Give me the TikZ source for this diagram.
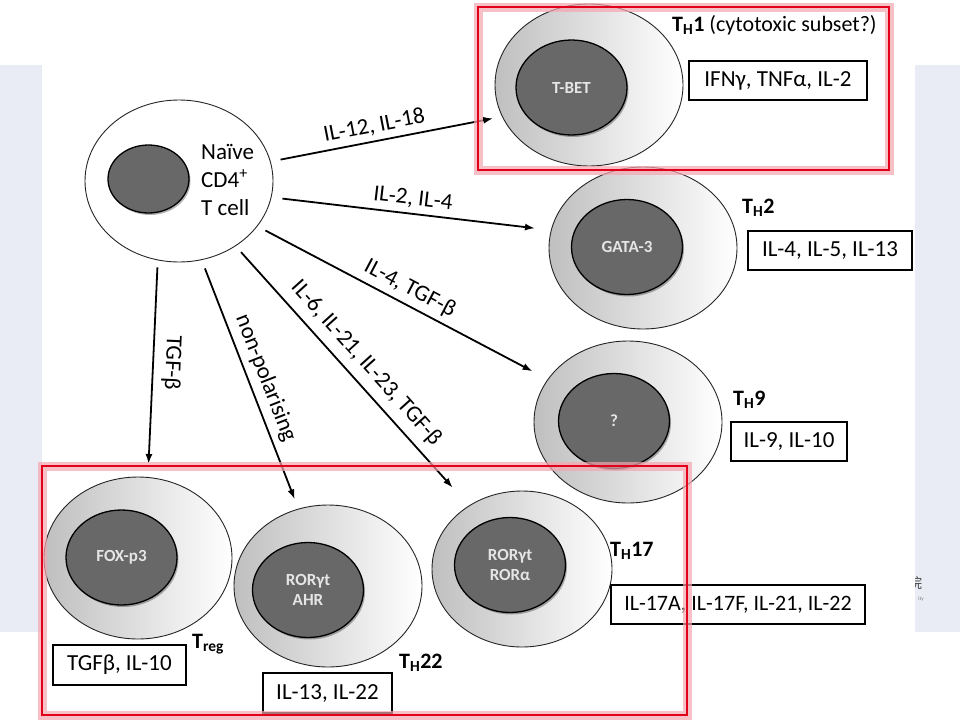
\documentclass[tikz,border=0pt]{standalone}
\usepackage{fontspec}
\setmainfont{Carlito}
\newfontfamily\cjkfont{Noto Sans CJK SC}
\usetikzlibrary{arrows.meta,positioning,shapes.geometric,shadows}

\definecolor{slidebg}{HTML}{E9ECF4}
\definecolor{nucgray}{HTML}{686868}
\definecolor{markred}{HTML}{E2001A}

\begin{document}
\begin{tikzpicture}[
    x=1pt, y=-1pt,
    font=\fontsize{23}{28}\selectfont,
    plain/.style={ellipse, draw=black!85, line width=0.9pt, fill=white, minimum width=188pt, minimum height=162pt, inner sep=0pt},
    cell/.style={plain, left color=black!25, middle color=black!11, right color=white},
    nuc/.style={ellipse, draw=black, line width=1.3pt, fill=nucgray, minimum width=111pt, minimum height=95pt, inner sep=0pt, align=center, text=black!10, font=\fontsize{17}{20}\selectfont\bfseries,
      drop shadow={shadow xshift=1.5pt, shadow yshift=-2pt, fill=black, opacity=0.3}},
    cyto/.style={draw, line width=1.2pt, minimum height=39pt, inner sep=0pt},
    subset/.style={anchor=base west, inner sep=0pt, font=\fontsize{22}{26}\selectfont\bfseries},
    sig/.style={midway, above, sloped, inner sep=5pt},
    glow/.style={draw=markred!35, line width=9pt, opacity=0.7},
    redframe/.style={draw=markred, line width=2.2pt},
    >={Latex[length=10pt,width=7pt]}
  ]
  \useasboundingbox (0,0) rectangle (960,720);
  \fill[white] (0,0) rectangle (960,720);

  % slide behind the figure
  \fill[slidebg] (0,65) rectangle (960,632);
  \node[text=black!70, font=\fontsize{14}{14}\selectfont\cjkfont] (logo) at (915,583) {院};
  \node[text=black!55, font=\fontsize{5}{5}\selectfont, inner sep=0pt] (logoity) at (921,599) {ity};
  \fill[white] (42,0) rectangle (915,720);

  % Naive cell
  \node[plain] (naive) at (179,181) {};
  \node[nuc, minimum width=81pt, minimum height=68pt] (naiven) at (148.5,179) {};
  \node[anchor=west, align=left, inner sep=0pt] (naivetxt) at (201,180) {Naïve\\CD4\textsuperscript{+}\\T cell};

  % TH1
  \node[cell] (th1) at (589,85) {};
  \node[nuc] (th1n) at (571.5,87.5) {T-BET};
  \node[subset] (th1lbl) at (672,31) {T\textsubscript{H}1 \mdseries(cytotoxic subset?)};
  \node[cyto, minimum width=178pt] (th1cyto) at (778,80.5) {IFNγ, TNFα, IL-2};

  % TH2
  \node[cell] (th2) at (643,248) {};
  \node[nuc] (th2n) at (627,247) {GATA-3};
  \node[subset] (th2lbl) at (742,213) {T\textsubscript{H}2};
  \node[cyto, minimum width=164pt] (th2cyto) at (830,250.5) {IL-4, IL-5, IL-13};

  % TH9
  \node[cell] (th9) at (628,422) {};
  \node[nuc] (th9n) at (614,421) {?};
  \node[subset] (th9lbl) at (733,405) {T\textsubscript{H}9};
  \node[cyto, minimum width=116pt] (th9cyto) at (789,441.5) {IL-9, IL-10};

  % Treg
  \node[cell] (treg) at (138,558) {};
  \node[nuc] (tregn) at (121.5,557.5) {FOX-p3};
  \node[subset] (treglbl) at (192,648) {T\textsubscript{reg}};
  \node[cyto, minimum width=133pt, minimum height=40pt] (tregcyto) at (119.5,665) {TGFβ, IL-10};

  % TH22
  \node[cell] (th22) at (328,586) {};
  \node[nuc] (th22n) at (308,590) {RORγt\\AHR};
  \node[subset] (th22lbl) at (399,668) {T\textsubscript{H}22};
  \node[cyto, minimum width=129pt, minimum height=40pt] (th22cyto) at (327.5,693) {IL-13, IL-22};

  % TH17
  \node[cell, minimum width=180pt, minimum height=156pt] (th17) at (522,569) {};
  \node[nuc] (th17n) at (510,565) {RORγt\\RORα};
  \node[subset] (th17lbl) at (610,556) {T\textsubscript{H}17};
  \node[cyto, minimum width=254pt, font=\fontsize{22}{26}\selectfont] (th17cyto) at (738,604.5) {IL-17A, IL-17F, IL-21, IL-22};

  % Polarising signals
  \draw[->, line width=1.8pt, shorten <=10pt, shorten >=9pt] (naive.12.8) -- (th1.200) node[sig, pos=0.46] {IL-12, IL-18};
  \draw[->, line width=1.8pt, shorten <=11pt, shorten >=16pt] (naive.350.1) -- (th2.169.5) node[sig] {IL-2, IL-4};
  \draw[->, line width=1.8pt, shorten <=9pt, shorten >=17pt] (naive.330.3) -- (th9.152.5) node[sig] {IL-4, TGF-β};
  \draw[->, line width=1.8pt, shorten <=8pt, shorten >=24pt] (naive.311.1) -- (th17.130.4) node[sig, inner sep=8pt] {IL-6, IL-21, IL-23, TGF-β};
  \draw[->, line width=1.8pt, shorten <=9pt, shorten >=10pt] (naive.286) -- (th22.111) node[sig, inner sep=6pt] {non-polarising};
  \draw[->, line width=1.8pt, shorten <=7pt, shorten >=13pt] (naive.255.7) -- (treg.83.9) node[sig, allow upside down, inner sep=8pt, pos=0.47] {TGF-β};

  % Highlight frames
  \draw[glow] (478,7) rectangle (889,170);
  \draw[redframe] (478,7) rectangle (889,170);
  \draw[glow] (42,466) rectangle (687,715);
  \draw[redframe] (42,466) rectangle (687,715);
\end{tikzpicture}
\end{document}
